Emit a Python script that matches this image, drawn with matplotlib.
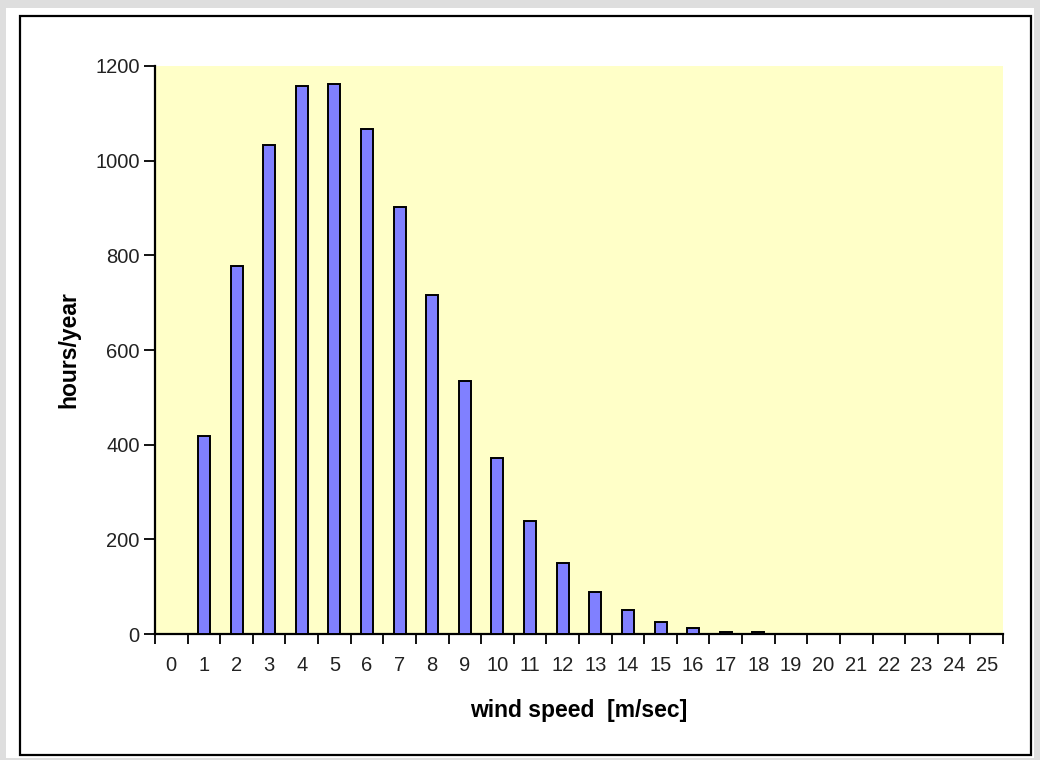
import matplotlib
matplotlib.use("Agg")
import matplotlib.pyplot as plt
from matplotlib.patches import Rectangle
import numpy as np

plt.rcParams['font.family'] = ['Liberation Sans', 'DejaVu Sans']

wind_speed = list(range(0, 26))
hours_per_year = [0, 418, 777, 1033, 1157, 1162, 1067, 902, 716, 535, 372,
                  239, 150, 89, 51, 26, 12, 5, 4, 0, 0, 0, 0, 0, 0, 0]
y_ticks = [0, 200, 400, 600, 800, 1000, 1200]

W, H = 1040, 760
fig = plt.figure(figsize=(W / 100, H / 100), dpi=100)
fig.patch.set_facecolor('#dedede')

# white panel and black border
fig.patches.append(Rectangle((6 / W, 1 - 758 / H), (1034 - 6) / W, (758 - 8) / H,
                             transform=fig.transFigure, facecolor='white',
                             edgecolor='none', zorder=-2))
fig.patches.append(Rectangle((20 / W, 1 - 755 / H), (1031 - 20) / W, (755 - 16) / H,
                             transform=fig.transFigure, facecolor='none',
                             edgecolor='black', linewidth=1.6, zorder=-1))

ax = fig.add_axes([155 / W, 1 - 634 / H, (1003 - 155) / W, (634 - 66) / H])
ax.set_zorder(2)
ax.set_facecolor('#ffffc8')

x = np.array(wind_speed)
ax.bar(x, hours_per_year, width=0.37, color='#8080ff', edgecolor='black',
       linewidth=1.4, zorder=3)

ax.set_xlim(-0.5, 25.5)
ax.set_ylim(0, 1200)

ax.set_yticks(y_ticks)
ax.set_yticklabels([str(v) for v in y_ticks], fontsize=14.5, color='#222222')
ax.tick_params(axis='y', direction='out', length=8, width=1.3, pad=3)

ax.set_xticks(np.arange(-0.5, 26, 1.0))
ax.set_xticklabels([])
ax.tick_params(axis='x', which='major', direction='out', length=7, width=1.3)
ax.set_xticks(x, minor=True)
ax.set_xticklabels([str(v) for v in wind_speed], minor=True, fontsize=14.5,
                   color='#222222')
ax.tick_params(axis='x', which='minor', length=0, pad=16)

for s in ['top', 'right']:
    ax.spines[s].set_visible(False)
for s in ['left', 'bottom']:
    ax.spines[s].set_linewidth(1.6)

ax.set_xlabel('wind speed  [m/sec]', fontsize=16.5, fontweight='bold', labelpad=17)
ax.set_ylabel('hours/year', fontsize=16.5, fontweight='bold', labelpad=11)

fig.savefig('out.png', dpi=100, facecolor=fig.get_facecolor())
